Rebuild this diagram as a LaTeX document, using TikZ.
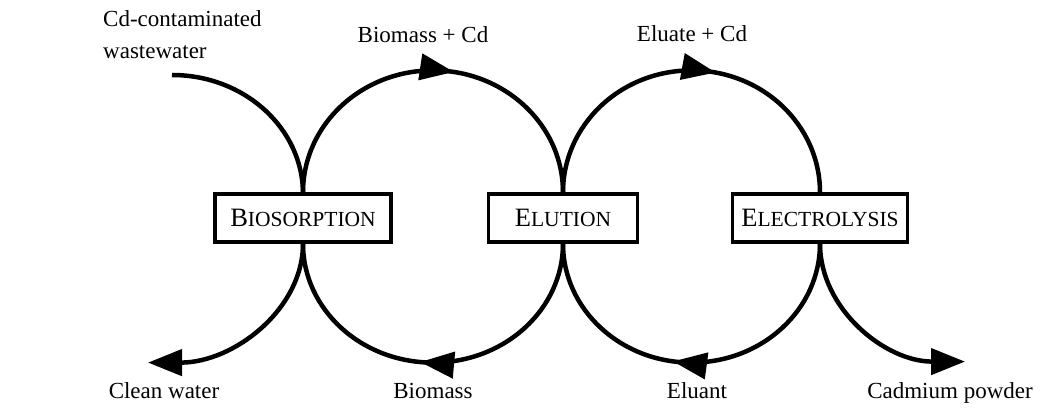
\documentclass[tikz,border=0pt]{standalone}
\usepackage{fontspec}
\setmainfont{Liberation Serif}
\usetikzlibrary{arrows.meta,decorations.markings}
\newcommand{\mysc}[2]{{\fontsize{26.5}{30}\selectfont #1}{\fontsize{21.5}{24}\selectfont #2}}
\begin{document}
\begin{tikzpicture}[x=1pt,y=1pt,
  flow/.style={line width=4.5pt},
  endtip/.style={-{Triangle[length=34pt,width=26pt]}},
  midarrow/.style={postaction={decorate},decoration={markings,mark=at position #1 with {\arrow{Triangle[length=34pt,width=26pt]}}}},
  stage/.style={draw,line width=3.2pt,inner sep=0pt,minimum height=48pt},
  lbl/.style={anchor=base,inner sep=0pt,font=\fontsize{23}{32}\selectfont}]
\useasboundingbox (0,0) rectangle (1061,412);
\node[stage,minimum width=176pt] (bio) at (303,194) {\mysc{B}{IOSORPTION}};
\node[stage,minimum width=149pt] (elu) at (563,194) {\mysc{E}{LUTION}};
\node[stage,minimum width=175pt] (ele) at (820,194) {\mysc{E}{LECTROLYSIS}};
\coordinate (in) at (172,337);
\node[lbl,anchor=base west,align=left] (cdw) at (103,353) {Cd-contaminated\\wastewater};
\node[lbl] (bcd) at (423,369) {Biomass + Cd};
\node[lbl] (ecd) at (692,370) {Eluate + Cd};
\node[lbl] (cw) at (164,13) {Clean water};
\node[lbl] (bm) at (433,13) {Biomass};
\node[lbl] (el) at (697,13) {Eluant};
\node[lbl] (cp) at (950,13) {Cadmium powder};
% top arcs
\draw[flow] (in) arc[start angle=90,end angle=0,x radius=131,y radius=119];
\draw[flow,midarrow=0.553] (bio.north) arc[start angle=180,end angle=0,x radius=130,y radius=122];
\draw[flow,midarrow=0.562] (elu.north) arc[start angle=180,end angle=0,x radius=128.5,y radius=122];
% bottom arcs
\draw[flow,endtip] (bio.south) arc[start angle=0,end angle=-90,x radius=155,y radius=119];
\draw[flow,midarrow=0.533] (elu.south) arc[start angle=0,end angle=-180,x radius=130,y radius=119];
\draw[flow,midarrow=0.548] (ele.south) arc[start angle=0,end angle=-180,x radius=128.5,y radius=119];
\draw[flow,endtip] (ele.south) arc[start angle=180,end angle=270,x radius=145,y radius=118];
\end{tikzpicture}
\end{document}
